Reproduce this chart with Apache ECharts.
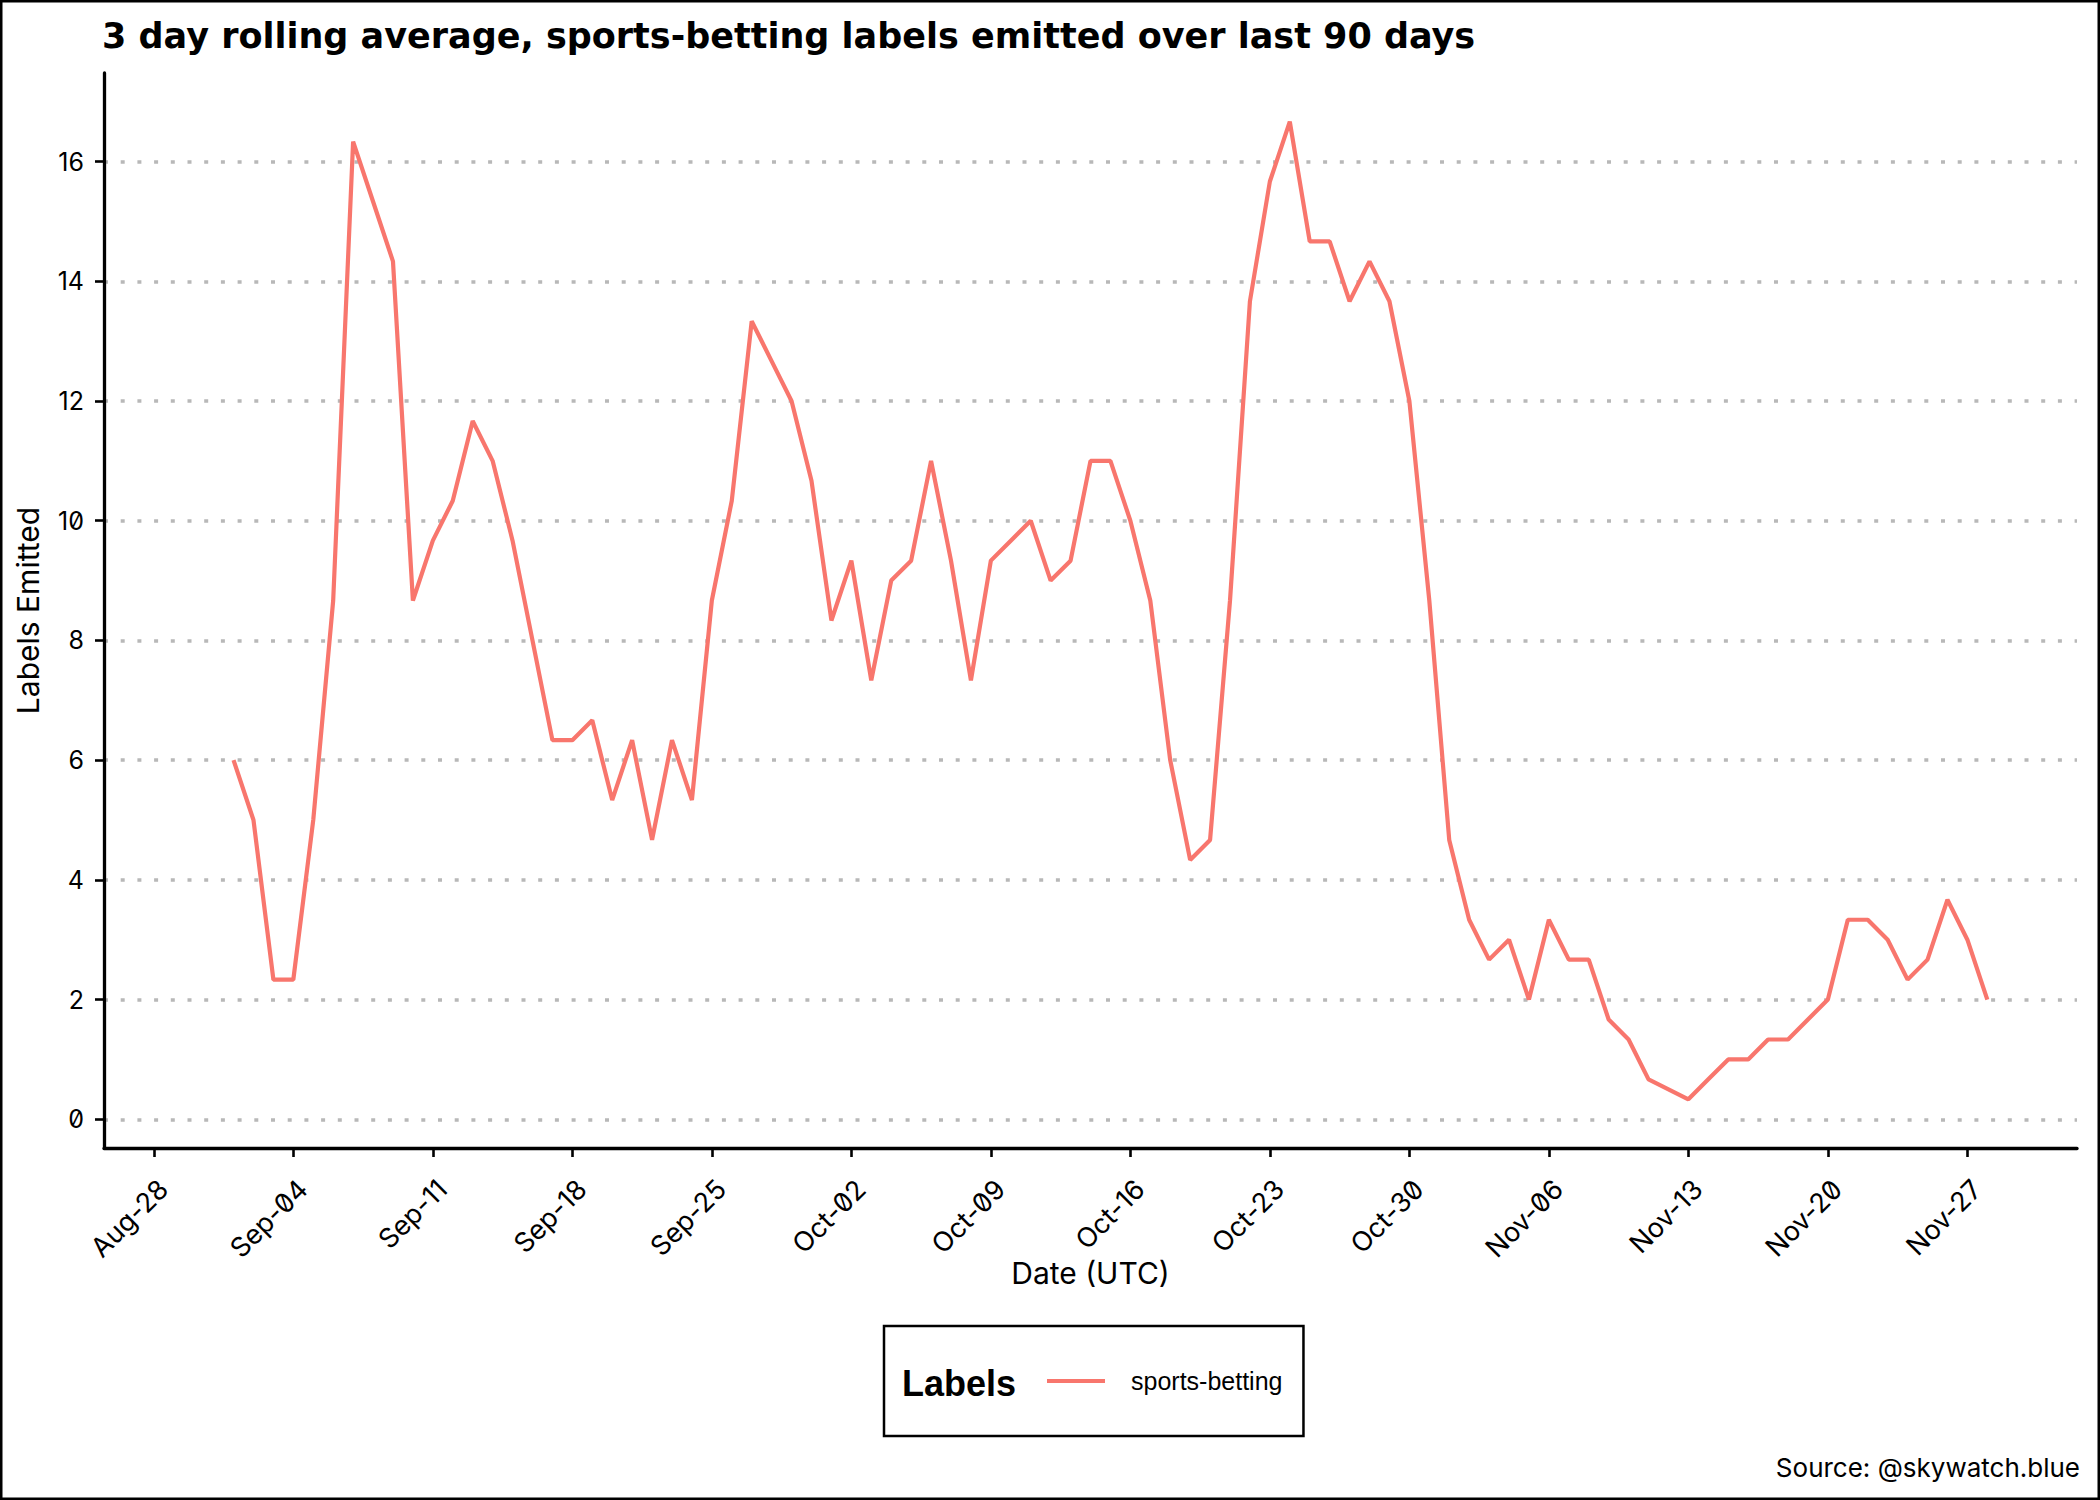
<!DOCTYPE html>
<html>
<head>
<meta charset="utf-8">
<script src="https://cdn.jsdelivr.net/npm/echarts@6/dist/echarts.min.js"></script>
<style>
  html, body { margin: 0; padding: 0; background: #ffffff; }
  #chart { width: 2100px; height: 1500px; font-feature-settings: "zero" 1; }
</style>
</head>
<body>
<div id="chart"></div>
<script>
// ---------------- data ----------------
const chartTitle = '3 day rolling average, sports-betting labels emitted over last 90 days';
const seriesName = 'sports-betting';
const legendTitle = 'Labels';
const xAxisTitle = 'Date (UTC)';
const yAxisTitle = 'Labels Emitted';
const sourceText = 'Source: @skywatch.blue';

// one value per day, starting at firstDate (null = no point that day)
const firstDate = [2024, 8, 1]; // 1 Sep 2024 (month index 8)
const septemberValues = [6, 5, 2.333, 2.333, 5, 8.667, 16.333, 15.333, 14.333, 8.667,
  9.667, 10.333, 11.667, 11, 9.667, 8, 6.333, 6.333, 6.667, 5.333,
  6.333, 4.667, 6.333, 5.333, 8.667, 10.333, 13.333, 12.667, 12, 10.667];
const octoberValues = [8.333, 9.333, 7.333, 9, 9.333, 11, 9.333, 7.333, 9.333, 9.667,
  10, 9, 9.333, 11, 11, 10, 8.667, 6, 4.333, 4.667,
  8.667, 13.667, 15.667, 16.667, 14.667, 14.667, 13.667, 14.333, 13.667, 12, 8.667];
const novemberValues = [4.667, 3.333, 2.667, 3, 2, 3.333, 2.667, 2.667, 1.667, 1.333,
  0.667, null, 0.333, 0.667, 1, 1, 1.333, 1.333, 1.667, 2,
  3.333, 3.333, 3, 2.333, 2.667, 3.667, 3, 2];

const xTickDates = ['2024-08-28', '2024-09-04', '2024-09-11', '2024-09-18', '2024-09-25',
  '2024-10-02', '2024-10-09', '2024-10-16', '2024-10-23', '2024-10-30',
  '2024-11-06', '2024-11-13', '2024-11-20', '2024-11-27'];
const xTickLabels = ['Aug-28', 'Sep-04', 'Sep-11', 'Sep-18', 'Sep-25', 'Oct-02', 'Oct-09',
  'Oct-16', 'Oct-23', 'Oct-30', 'Nov-06', 'Nov-13', 'Nov-20', 'Nov-27'];
const yTicks = [0, 2, 4, 6, 8, 10, 12, 14, 16];

// ---------------- build ----------------
const DAY = 86400000;
const values = septemberValues.concat(octoberValues, novemberValues);
const start = Date.UTC(firstDate[0], firstDate[1], firstDate[2]);
const seriesData = values.map((v, i) => [start + i * DAY, v]);
const parseISO = s => { const p = s.split('-').map(Number); return Date.UTC(p[0], p[1] - 1, p[2]); };
const xTickValues = xTickDates.map(parseISO);

const xMin = Date.UTC(2024, 7, 25, 12);
const xMax = Date.UTC(2024, 11, 2, 12);
const yMin = -0.48;
const yMax = 17.48;

const mainFont = 'Inter, "Noto Sans", sans-serif';
const titleFont = '"DejaVu Sans", Inter, sans-serif';
const legendFont = '"Liberation Sans", Arial, sans-serif';
const lineColor = '#F8766D';

const chart = echarts.init(document.getElementById('chart'), null, { renderer: 'svg', width: 2100, height: 1500 });

chart.setOption({
  animation: false,
  backgroundColor: '#ffffff',
  title: {
    text: chartTitle,
    left: 102,
    top: 18,
    padding: 0,
    textStyle: { fontFamily: titleFont, fontWeight: 'bold', fontSize: 35, color: '#000000' }
  },
  grid: { left: 104, right: 23, top: 73, bottom: 352, containLabel: false, outerBoundsMode: 'none' },
  legend: {
    data: [seriesName],
    left: 884,
    top: 1326,
    orient: 'horizontal',
    padding: [40, 21, 40, 163],
    borderColor: '#000000',
    borderWidth: 2.5,
    icon: 'rect',
    itemWidth: 58,
    itemHeight: 4,
    textStyle: { fontFamily: legendFont, fontSize: 25, color: '#000000', lineHeight: 30, padding: [0, 0, 0, 21] }
  },
  xAxis: {
    type: 'value',
    min: xMin,
    max: xMax,
    name: xAxisTitle,
    nameLocation: 'middle',
    nameGap: 110,
    nameMoveOverlap: false,
    nameTextStyle: { fontFamily: mainFont, fontSize: 30, color: '#000000' },
    axisLine: { show: true, onZero: false, lineStyle: { color: '#000000', width: 3.3 } },
    axisTick: { show: true, length: 9, customValues: xTickValues, lineStyle: { color: '#000000', width: 2.6 } },
    axisLabel: {
      customValues: xTickValues,
      rotate: 45,
      margin: 27,
      verticalAlign: 'top',
      fontFamily: mainFont,
      fontSize: 27,
      color: '#000000',
      formatter: function (v) {
        const i = xTickValues.indexOf(v);
        return i >= 0 ? xTickLabels[i] : '';
      }
    },
    splitLine: { show: false }
  },
  yAxis: {
    type: 'value',
    min: yMin,
    max: yMax,
    name: yAxisTitle,
    nameLocation: 'middle',
    nameRotate: 90,
    nameGap: 61,
    nameTextStyle: { fontFamily: mainFont, fontSize: 30, color: '#000000' },
    axisLine: { show: true, onZero: false, lineStyle: { color: '#000000', width: 3.3 } },
    axisTick: { show: true, length: 9, customValues: yTicks, lineStyle: { color: '#000000', width: 2.6 } },
    axisLabel: { customValues: yTicks, margin: 20, fontFamily: mainFont, fontSize: 25, color: '#000000' },
    splitLine: { show: true, lineStyle: { color: '#b8b8b8', width: 3.5, type: [4, 12.7] } }
  },
  series: [{
    type: 'line',
    name: seriesName,
    data: seriesData,
    symbol: 'none',
    showSymbol: false,
    connectNulls: true,
    lineStyle: { color: lineColor, width: 4.2 },
    itemStyle: { color: lineColor }
  }],
  graphic: [
    {
      type: 'rect',
      shape: { x: 1.25, y: 1.25, width: 2097.5, height: 1497.5 },
      style: { fill: 'none', stroke: '#000000', lineWidth: 2.5 },
      silent: true
    },
    {
      type: 'text',
      x: 902,
      y: 1383,
      style: { text: legendTitle, font: 'bold 36px ' + legendFont, fill: '#000000', verticalAlign: 'middle', align: 'left' }
    },
    {
      type: 'text',
      x: 2080,
      y: 1467,
      style: { text: sourceText, font: '26px ' + mainFont, fill: '#000000', verticalAlign: 'middle', align: 'right' }
    }
  ]
});
</script>
</body>
</html>
